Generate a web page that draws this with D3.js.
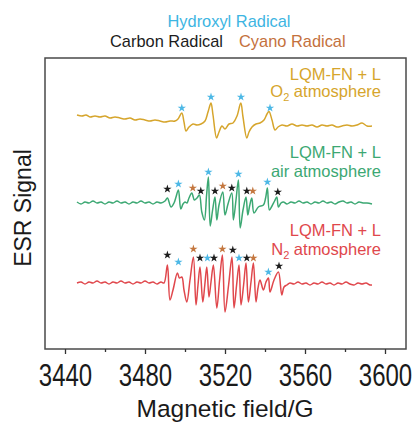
<!DOCTYPE html>
<html>
<head>
<meta charset="utf-8">
<script src="https://cdn.jsdelivr.net/npm/d3@7"></script>
<style>
body { margin: 0; background: #fff; }
text { font-family: "Liberation Sans", Arial, sans-serif; }
</style>
</head>
<body>
<div id="chart"></div>
<script>
// chart size
var svgWidth = 416;
var svgHeight = 423;

// spectra (field in G, signal in a.u. relative to each trace's baseline)
var fieldO2 = [3446,3448.5,3450.5,3452.5,3455,3457.5,3460,3462.5,3465,3467.5,3470,3472.5,3475,3477.5,3480,3482.5,3485,3487.5,3490,3492.5,3495,3496.5,3498.4,3499.5,3500.5,3502,3504,3506,3508,3510,3511.5,3513,3514,3515.8,3517,3518.5,3520,3522,3524,3526,3527.9,3529,3530.9,3532,3533.5,3535.5,3537.5,3539.5,3541,3542,3543.5,3545,3546.5,3548.5,3551,3553.5,3556,3558.5,3561,3563.5,3566,3568.5,3571,3573.5,3576,3578.5,3581,3583.5,3586,3588.5,3591,3593.5];
var signalO2 = [7,6,7,5,6,5,6,4,5,4,3,4,2,3,2,1,2,1,0,1,1,3,9,0,-9,-5,-2,-3,-2,1,10,19,7,-16,-10,-4,-7,-2,-1,6,19,5,-16,-10,-5,-2,-1,2,8,10.5,2,-8,-5,-3,-4,-2,-4,-3,-4,-3,-5,-3,-4,-3,-5,-4,-3,-4,-3,-1,-4,-4];

var fieldAir = [3446,3448,3450,3452,3454,3456,3458,3460,3462,3464,3466,3468,3470,3472,3474,3476,3478,3480,3482,3484,3486,3488,3490,3491.2,3493,3494.5,3495.5,3496.7,3497.9,3499,3500,3501,3502,3503.4,3504.7,3506,3507.2,3508.4,3509.7,3510.8,3511.7,3512.6,3513.8,3515,3515.9,3517,3518.9,3520,3521.5,3523.4,3524.2,3525.5,3526.7,3527.6,3529,3530.5,3531.4,3532.3,3533.4,3534.5,3536.7,3539.2,3540.3,3541.2,3542.2,3543.5,3544.8,3545.9,3546.7,3548,3549.2,3551,3553,3555,3557,3559,3561,3563,3565,3567,3569,3571,3573,3575,3577,3579,3581,3583,3585,3587,3589,3591,3593.5];
var signalAir = [1,-1,1,0,2,0,1,-1,1,0,2,0,1,-1,1,0,2,0,1,-1,1,0,2,5,-4,0,6,13,-6,-1,1,0,5,10,3,5,8,-9,-17,8,26,-23,-7,6,-17,-2,11,-12,-1,10,-17,3,23,-25,-7,6,-12,-3,5,-10,-4,-2,5,15,-7,-3,2,6,-4,0,1,-1,1,0,2,0,1,-1,1,0,2,0,1,-1,1,2,0,1,-1,1,0,0,-1];

var fieldN2 = [3446,3448,3450,3452,3454,3456,3458,3460,3462,3464,3466,3468,3470,3472,3474,3476,3478,3480,3482,3484,3486,3488,3489.5,3491.2,3492.5,3494,3496.2,3497.2,3498.4,3499.5,3500.9,3502.5,3504.2,3505.5,3506.5,3507.5,3508.9,3509.9,3510.9,3512,3513,3514.2,3515.9,3517.3,3518.7,3520,3521.8,3523.5,3524.5,3525.8,3527,3528,3529.3,3530.5,3531.7,3533,3534.2,3535.5,3536.5,3537.5,3539.2,3540.5,3541.7,3542.5,3544.5,3546.7,3548.4,3549.5,3550.9,3552.5,3554.5,3556.5,3558.5,3560.5,3562.5,3564.5,3566.5,3568.5,3570.5,3572.5,3574.5,3576.5,3578.5,3580.5,3582.5,3584.5,3586.5,3588.5,3590.5,3592.5,3593.5];
var signalN2 = [0,1,-1,1,0,2,0,1,-1,1,0,2,0,1,-1,1,0,2,0,1,-1,1,0,18,-17,-7,10,5,6,-7,-19,3,26,-22,-2,16,-19,-2,16,-14,1,18,-25,3,28,-29,-2,26,-25,-2,18,-22,-2,20,-19,1,20,-19,-5,3,-7,1,5,-9,3,11,-12,-4,-2,0,-1,1,-1,0,-2,0,-1,1,-1,0,-2,0,-1,1,-1,-2,0,-1,0,-2,-2];

// star markers: field, height above baseline, radical type
var starFieldO2 = [3498.4,3513,3528,3542.5];
var starHeightO2 = [14,25,25,14];
var starTypeO2 = ["h","h","h","h"];

var starFieldAir = [3491.2,3496.7,3503.9,3507.9,3511.7,3515,3518.9,3523.4,3526.7,3530.9,3533.9,3541.2,3546.4];
var starHeightAir = [14,19,15,12,31,12,17,15,29,12,12,21,11];
var starTypeAir = ["c","h","n","c","h","c","n","c","h","c","n","h","c"];

var starFieldN2 = [3491.2,3496.7,3504.2,3507.5,3511.2,3514.5,3518.7,3523.9,3527,3530.9,3534.2,3541.7,3547];
var starHeightN2 = [28,21,34,25,25,25,34,33,25,25,25,11,17];
var starTypeN2 = ["c","h","n","c","h","c","n","c","h","c","n","h","c"];

// trace offsets (a.u.)
var offsets = [227, 146, 66];
var traceColors = ["#d6a52c", "#3ca873", "#e0474c"];

var majorTicks = [3440, 3480, 3520, 3560, 3600];
var minorTicks = [3460, 3500, 3540, 3580];

var starColors = { h: "#4db8e6", c: "#1c1c1c", n: "#c4773f" };

var svg = d3.select("#chart")
    .append("svg")
    .attr("width", svgWidth)
    .attr("height", svgHeight);

var xScale = d3.scaleLinear().domain([3430, 3610]).range([45, 405]);
var yScale = d3.scaleLinear().domain([0, 291]).range([349, 58]);

// frame
svg.append("rect")
    .attr("x", 45).attr("y", 58)
    .attr("width", 361).attr("height", 291)
    .attr("fill", "none")
    .attr("stroke", "#4a4a4a")
    .attr("stroke-width", 1.5);

// x axis with major and minor ticks
var axisG = svg.append("g")
    .attr("transform", "translate(0,349)")
    .call(d3.axisBottom(xScale).tickValues(majorTicks).tickSize(5).tickSizeOuter(0).tickFormat(d3.format("d")));
axisG.select(".domain").remove();
axisG.selectAll("line").attr("stroke", "#333").attr("stroke-width", 1.3);
// tick labels in the figure are drawn a bit taller than wide
axisG.selectAll("text")
    .attr("y", 0)
    .attr("dy", 0)
    .attr("transform", "translate(0,36.5) scale(1,1.28)")
    .attr("font-size", "24px")
    .attr("fill", "#1a1a1a")
    .style("font-family", "Liberation Sans, Arial, sans-serif");

var minorG = svg.append("g")
    .attr("transform", "translate(0,349)")
    .call(d3.axisBottom(xScale).tickValues(minorTicks).tickSize(3).tickFormat(""));
minorG.select(".domain").remove();
minorG.selectAll("line").attr("stroke", "#333").attr("stroke-width", 1.3);

// axis titles
svg.append("text")
    .attr("x", 225).attr("y", 417)
    .attr("text-anchor", "middle")
    .attr("font-size", "24.5px")
    .attr("fill", "#1a1a1a")
    .text("Magnetic field/G");

svg.append("text")
    .attr("transform", "translate(31,208) rotate(-90)")
    .attr("text-anchor", "middle")
    .attr("font-size", "23px")
    .attr("fill", "#1a1a1a")
    .text("ESR Signal");

// radical legend on top
svg.append("text")
    .attr("x", 229).attr("y", 27)
    .attr("text-anchor", "middle")
    .attr("font-size", "16.4px")
    .attr("fill", "#3db5e2")
    .text("Hydroxyl Radical");
svg.append("text")
    .attr("x", 110).attr("y", 47)
    .attr("font-size", "16.4px")
    .attr("fill", "#1c1c1c")
    .text("Carbon Radical");
svg.append("text")
    .attr("x", 239).attr("y", 47)
    .attr("font-size", "16.4px")
    .attr("fill", "#c4713d")
    .text("Cyano Radical");

// traces
var traces = [
    { field: fieldO2, signal: signalO2, sf: starFieldO2, sh: starHeightO2, st: starTypeO2 },
    { field: fieldAir, signal: signalAir, sf: starFieldAir, sh: starHeightAir, st: starTypeAir },
    { field: fieldN2, signal: signalN2, sf: starFieldN2, sh: starHeightN2, st: starTypeN2 }
];

var star = d3.symbol().type(d3.symbolStar).size(22);

traces.forEach(function(t, i) {
    var pts = t.field.map(function(f, j) { return [f, t.signal[j] + offsets[i]]; });
    var line = d3.line()
        .x(d => xScale(d[0]))
        .y(d => yScale(d[1]))
        .curve(d3.curveCatmullRom.alpha(0.5));
    svg.append("path")
        .datum(pts)
        .attr("d", line)
        .attr("fill", "none")
        .attr("stroke", traceColors[i])
        .attr("stroke-width", 1.5)
        .attr("stroke-linejoin", "round");

    var stars = t.sf.map(function(f, j) { return { f: f, h: t.sh[j] + offsets[i], type: t.st[j] }; });
    svg.selectAll(null)
        .data(stars)
        .enter()
        .append("path")
        .attr("d", star)
        .attr("transform", d => `translate(${xScale(d.f)},${yScale(d.h)})`)
        .attr("fill", d => starColors[d.type]);
});

// sample labels
var labels = [
    { line1: "LQM-FN + L", pre: "O", sub: "2", post: " atmosphere", y1: 80, y2: 97 },
    { line1: "LQM-FN + L", pre: "air atmosphere", sub: "", post: "", y1: 158, y2: 176.5 },
    { line1: "LQM-FN + L", pre: "N", sub: "2", post: " atmosphere", y1: 236, y2: 255 }
];

labels.forEach(function(l, i) {
    svg.append("text")
        .attr("x", 381).attr("y", l.y1)
        .attr("text-anchor", "end")
        .attr("font-size", "16.5px")
        .attr("fill", traceColors[i])
        .text(l.line1);
    var t2 = svg.append("text")
        .attr("x", 381).attr("y", l.y2)
        .attr("text-anchor", "end")
        .attr("font-size", "16.5px")
        .attr("fill", traceColors[i]);
    t2.append("tspan").text(l.pre);
    if (l.sub) {
        t2.append("tspan").attr("font-size", "11px").attr("dy", 4).text(l.sub);
        t2.append("tspan").attr("dy", -4).text(l.post);
    }
});
</script>
</body>
</html>
